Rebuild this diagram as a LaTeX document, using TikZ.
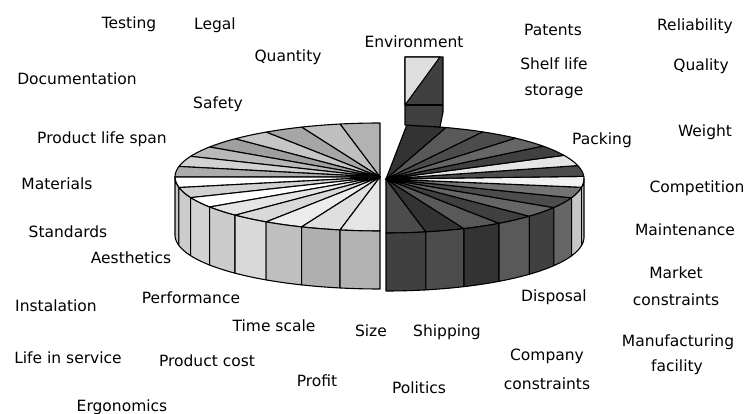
\documentclass[tikz,border=0pt]{standalone}
\usepackage{fontspec}
\setmainfont{DejaVu Sans}
\newcommand\pietop[7]{%
  \filldraw[edge, fill=#7] (#1,#2) -- plot[domain=#5:#6, samples=8] ({#1+#3*cos(\x)},{#2-#4*sin(\x)}) -- cycle;}
\newcommand\pieside[8]{%
  \filldraw[edge, fill=#8] plot[domain=#5:#6, samples=8] ({#1+#3*cos(\x)},{#2-#4*sin(\x)}) -- plot[domain=#6:#5, samples=8] ({#1+#3*cos(\x)},{#2+#7-#4*sin(\x)}) -- cycle;}
\begin{document}
\begin{tikzpicture}[x=1pt,y=-1pt,
  lbl/.style={anchor=base, inner sep=0pt, font=\fontsize{15.5}{18}\selectfont},
  edge/.style={draw=black, line width=1.1pt, line join=round}]
\useasboundingbox (0,0) rectangle (747,414);
% left half: tops
\foreach \i/\c in {0/gray!60,1/gray!50,2/gray!70,3/gray!45,4/gray!75,5/gray!55,6/gray!35,7/gray!65,
                   8/white,9/gray!35,10/white,11/gray!20,12/gray!30,13/gray!15,14/gray!25,15/gray!20}{
  \pgfmathsetmacro\aa{90+11.25*\i}
  \pgfmathsetmacro\ab{90+11.25*(\i+1)}
  \pietop{380}{177}{205}{54}{\aa}{\ab}{\c}
}
% left half: sides
\foreach \i/\c in {8/gray!45,9/gray!40,10/gray!35,11/gray!40,12/gray!30,13/gray!50,14/gray!62,15/gray!60}{
  \pgfmathsetmacro\aa{90+11.25*\i}
  \pgfmathsetmacro\ab{90+11.25*(\i+1)}
  \pieside{380}{177}{205}{54}{\aa}{\ab}{58}{\c}
}
% right half: tops
\foreach \k/\c in {0/black!70,1/black!80,2/black!65,3/black!75,4/black!60,5/black!70,6/black!55,7/gray!10,
                   8/black!70,9/gray!20,10/black!75,11/black!60,12/black!70,13/black!65,14/black!80}{
  \pgfmathsetmacro\aa{270+11.6*\k}
  \pgfmathsetmacro\ab{270+11.6*(\k+1)}
  \pietop{386}{179}{198}{54}{\aa}{\ab}{\c}
}
% right half: sides
\foreach \k/\c in {0/black!75,1/black!70,2/black!80,3/black!65,4/black!75,5/black!60,6/gray!45,7/gray!40}{
  \pgfmathsetmacro\aa{270+11.6*\k}
  \pgfmathsetmacro\ab{min(270+11.6*(\k+1),360)}
  \pieside{386}{179}{198}{54}{\aa}{\ab}{58}{\c}
}
% raised Environment slice
\filldraw[edge, fill=black!75] (405,57) -- (443,57) -- (443,112) -- (440,127) -- (405,125) -- cycle;
\filldraw[edge, fill=gray!25] (405,57) -- (440,57) -- (405,105) -- cycle;
\draw[edge] (405,105) -- (443,105);
% labels
\node[lbl] (l1) at (129,29) {Testing};
\node[lbl] (l2) at (215,30) {Legal};
\node[lbl] (l3) at (288,62) {Quantity};
\node[lbl] (l4) at (414,48) {Environment};
\node[lbl] (l5) at (553,36) {Patents};
\node[lbl] (l6) at (695,31) {Reliability};
\node[lbl] (l7) at (554,70) {Shelf life};
\node[lbl] (l8) at (554,96) {storage};
\node[lbl] (l9) at (701,71) {Quality};
\node[lbl] (l10) at (77,85) {Documentation};
\node[lbl] (l11) at (218,109) {Safety};
\node[lbl] (l12) at (602,145) {Packing};
\node[lbl] (l13) at (705,137) {Weight};
\node[lbl] (l14) at (102,144) {Product life span};
\node[lbl] (l15) at (57,190) {Materials};
\node[lbl] (l16) at (697,193) {Competition};
\node[lbl] (l17) at (685,236) {Maintenance};
\node[lbl] (l18) at (68,237) {Standards};
\node[lbl] (l19) at (131,263) {Aesthetics};
\node[lbl] (l20) at (676,278) {Market};
\node[lbl] (l21) at (676,305) {constraints};
\node[lbl] (l22) at (56,311) {Instalation};
\node[lbl] (l23) at (191,303) {Performance};
\node[lbl] (l24) at (554,301) {Disposal};
\node[lbl] (l25) at (274,331) {Time scale};
\node[lbl] (l26) at (371,336) {Size};
\node[lbl] (l27) at (447,336) {Shipping};
\node[lbl] (l28) at (68,363) {Life in service};
\node[lbl] (l29) at (207,366) {Product cost};
\node[lbl] (l30) at (547,360) {Company};
\node[lbl] (l31) at (547,389) {constraints};
\node[lbl] (l32) at (678,346) {Manufacturing};
\node[lbl] (l33) at (677,371) {facility};
\node[lbl] (l34) at (317,386) {Profit};
\node[lbl] (l35) at (419,393) {Politics};
\node[lbl] (l36) at (122,411) {Ergonomics};
\end{tikzpicture}
\end{document}
